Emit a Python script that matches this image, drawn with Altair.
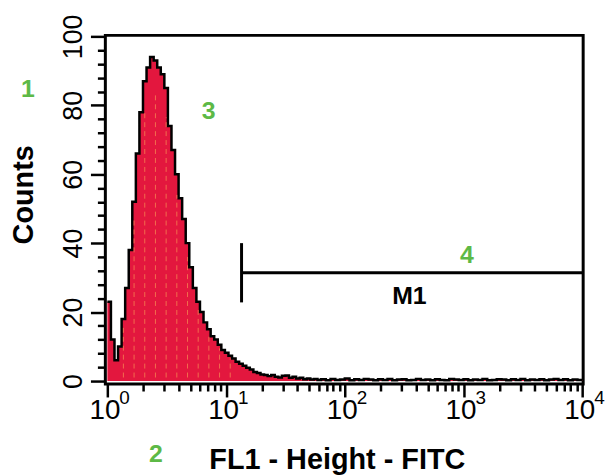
import altair as alt
import pandas as pd

# ---------------- data ----------------
# histogram: fine bins (0.03 decade wide) from 10^0 to 10^1.8
fine_bin_start_log = 0.0
fine_bin_width_log = 0.03
fine_counts = [23, 12, 6, 10, 18, 27, 38, 52, 66, 78,
               87, 91, 94, 93, 91, 89, 85, 74, 67, 60,
               53, 47, 40, 33, 27, 23, 20, 17, 15, 13,
               12, 10.5, 9, 8.2, 7.3, 6.5, 5.6, 5, 4.4, 3.8,
               3.3, 2.6, 2.3, 1.9, 1.7, 1.4, 1.7, 1.2, 1.0, 1.5,
               1.6, 0.9, 1.2, 0.7, 0.9, 0.5, 0.7, 0.4, 0.6, 0.3]
# tail bins (0.04 decade wide) from 10^1.8 to 10^4
tail_bin_start_log = 1.8
tail_bin_width_log = 0.04
tail_counts = [0.5, 0.2, 0.6, 0.3, 0.4, 0.7, 0.2, 0.5, 0.3, 0.6,
               0.4, 0.2, 0.5, 0.3, 0.6, 0.2, 0.4, 0.5, 0.2, 0.3,
               0.6, 0.3, 0.4, 0.2, 0.5, 0.3, 0.2, 0.6, 0.4, 0.3,
               0.5, 0.2, 0.4, 0.3, 0.6, 0.2, 0.3, 0.5, 0.4, 0.2,
               0.5, 0.3, 0.6, 0.2, 0.4, 0.3, 0.5, 0.2, 0.4, 0.6,
               0.3, 0.5, 0.2, 0.4, 0.3]

# M1 gate marker
m1_lo = 13.5
m1_hi = 10000
m1_level = 31.4
m1_tick_lo = 22.8
m1_tick_hi = 40.0
m1_label = "M1"
m1_label_x = 350
m1_label_y = 24.5

# axes
x_decades = [1, 10, 100, 1000, 10000]
x_exponents = ["0", "1", "2", "3", "4"]
x_tick_values = [m * 10 ** d for d in range(4) for m in range(1, 10)] + [10000]
y_tick_values = list(range(0, 101, 4))
x_title = "FL1 - Height - FITC"
y_title = "Counts"

# green panel annotations
ann_text = ["1", "2", "3", "4"]

# ---------------- build tables ----------------
edges_log = [fine_bin_start_log + i * fine_bin_width_log for i in range(len(fine_counts))]
edges_log += [tail_bin_start_log + i * tail_bin_width_log for i in range(len(tail_counts))]
edges_log += [4.0]
counts = fine_counts + tail_counts + [tail_counts[-1]]
hist = pd.DataFrame({"fl1": [10 ** e for e in edges_log], "count": counts})

# dithering streaks inside the filled histogram (every 3rd fine bin, below its top)
streak_idx = list(range(4, 36, 3))
streaks = pd.DataFrame({
    "fl1": [10 ** (fine_bin_start_log + (i + 0.5) * fine_bin_width_log) for i in streak_idx],
    "top": [fine_counts[i] * 0.9 for i in streak_idx],
    "bot": [1.0 for _ in streak_idx],
})

RED = "#E3173E"
GREEN = "#5DB946"
LABEL_FONT = "Liberation Sans Narrow, Liberation Sans, Arial, sans-serif"
TITLE_FONT = "Liberation Sans, Arial, sans-serif"

xscale = alt.Scale(type="log", domain=[10 ** -0.017, 10 ** 4.008], nice=False)
yscale = alt.Scale(domain=[-0.9, 100.3], nice=False, zero=False)

major_x_test = "indexof([1,10,100,1000,10000], datum.value) >= 0"
xaxis = alt.Axis(
    values=x_tick_values,
    labelExpr=f"{major_x_test} ? '10' : ''",
    domain=False, grid=False,
    tickSize=13, tickWidth=2.5, tickColor="black",
    tickDash={"condition": {"test": major_x_test, "value": [100, 0]}, "value": [7, 100]},
    labelFont=LABEL_FONT, labelFontSize=28, labelColor="black",
    labelPadding=0, labelFlush=False, labelOverlap=False, labelOffset=-3,
    title=x_title, titleFont=TITLE_FONT, titleFontSize=29, titleFontWeight="bold",
    titleColor="black", titleX=233, titleY=85, titleBaseline="alphabetic",
    titleAlign="center",
)
yaxis = alt.Axis(
    values=y_tick_values,
    labelExpr="datum.value % 20 === 0 ? datum.label : ''",
    domain=False, grid=False,
    tickSize=15, tickWidth=2.5, tickColor="black",
    tickDash={"condition": {"test": "datum.value % 20 === 0", "value": [100, 0]}, "value": [8, 100]},
    labelFont=LABEL_FONT, labelFontSize=27, labelColor="black",
    labelAngle=270, labelAlign="center", labelBaseline="bottom",
    labelPadding=3, labelFlush=False, labelOverlap=False,
    title=y_title, titleFont=TITLE_FONT, titleFontSize=29, titleFontWeight="bold",
    titleColor="black", titleAngle=270, titleX=-73, titleY=160,
    titleBaseline="alphabetic", titleAlign="center",
)


def X(field):
    return alt.X(field, scale=xscale, axis=xaxis)


def Y(field):
    return alt.Y(field, scale=yscale, axis=yaxis)


area = alt.Chart(hist).mark_area(
    interpolate="step-after", color=RED, opacity=1,
    line={"color": "black", "strokeWidth": 2.5},
).encode(x=X("fl1:Q"), y=Y("count:Q"))

streak_layer = alt.Chart(streaks).mark_rule(
    color="#F58A52", strokeWidth=1, strokeDash=[5, 4], opacity=0.75,
).encode(x=X("fl1:Q"), y=Y("bot:Q"), y2="top:Q")

m1_df = pd.DataFrame({"lo": [m1_lo], "hi": [m1_hi], "lvl": [m1_level],
                      "tlo": [m1_tick_lo], "thi": [m1_tick_hi],
                      "lab": [m1_label], "lx": [m1_label_x], "ly": [m1_label_y]})
m1_h = alt.Chart(m1_df).mark_rule(color="black", strokeWidth=3).encode(
    x=X("lo:Q"), x2="hi:Q", y=Y("lvl:Q"))
m1_v = alt.Chart(m1_df).mark_rule(color="black", strokeWidth=3).encode(
    x=X("lo:Q"), y=Y("tlo:Q"), y2="thi:Q")
m1_t = alt.Chart(m1_df).mark_text(
    font=TITLE_FONT, fontSize=25, fontWeight="bold", color="black",
    align="center", baseline="middle").encode(
    x=X("lx:Q"), y=Y("ly:Q"), text="lab:N")

exp_df = pd.DataFrame({"x": x_decades, "e": x_exponents})
exps = alt.Chart(exp_df).mark_text(
    font=LABEL_FONT, fontSize=19, color="black", align="left",
    baseline="alphabetic", dx=12).encode(
    x=X("x:Q"), y=alt.value(371), text="e:N")

ann_layers = []
for t, px, py in zip(ann_text, [-78, 51, 104, 364], [54, 421, 76, 221]):
    ann_layers.append(
        alt.Chart(pd.DataFrame({"t": [t]})).mark_text(
            font=TITLE_FONT, fontSize=25, fontWeight="bold", color=GREEN,
            align="center", baseline="middle").encode(
            x=alt.value(px), y=alt.value(py), text="t:N"))

chart = alt.layer(area, streak_layer, m1_h, m1_v, m1_t, exps, *ann_layers).properties(
    width=481, height=351,
    padding={"left": 98, "top": 26, "right": 24, "bottom": 90},
    autosize=alt.AutoSizeParams(type="none"),
    background="white",
).configure_view(stroke="black", strokeWidth=3)

chart.save("out.html", embed_options={"renderer": "svg", "actions": False})
